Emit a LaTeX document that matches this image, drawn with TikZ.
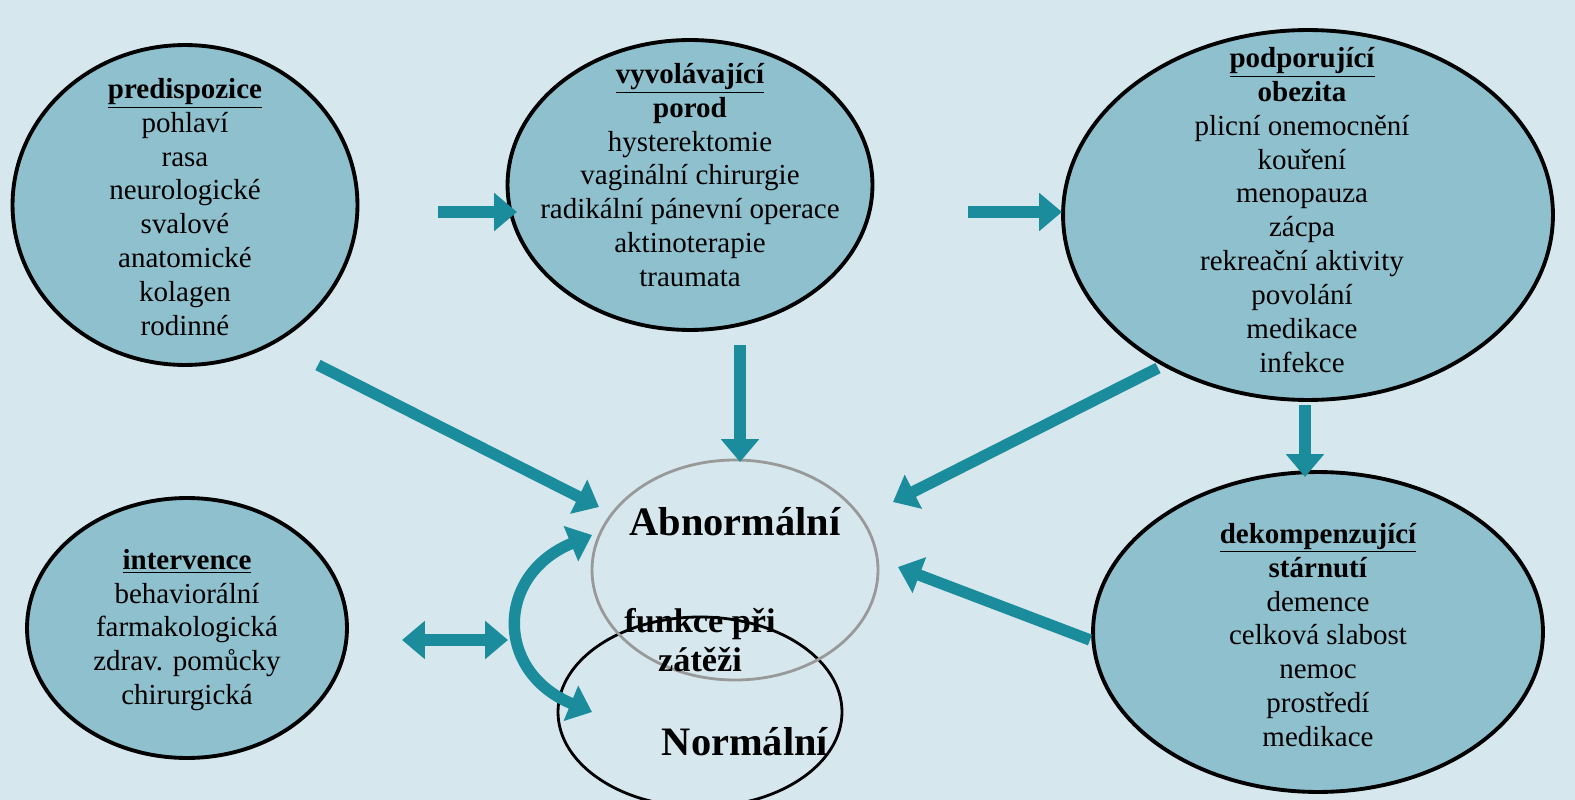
\documentclass[tikz,border=0pt]{standalone}
\usepackage{fontspec}
\setmainfont{Liberation Serif}
\usetikzlibrary{arrows.meta,shapes.geometric}
\definecolor{bgblue}{HTML}{D6E8EE}
\definecolor{cellfill}{HTML}{8EC0CD}
\definecolor{arrowteal}{HTML}{1A8C9C}
\begin{document}
\begin{tikzpicture}[x=0.02cm,y=-0.02cm]
            \fill[bgblue] (0,0) rectangle (1575,800);
            \useasboundingbox (0,0) rectangle (1575,800);
            \tikzset{cell/.style={ellipse,draw,line width=2.2pt,fill=cellfill,inner sep=0pt},
                     celltext/.style={align=center,font=\fontsize{16.5}{19.3}\selectfont},
                     flow/.style={arrowteal,line width=6.5pt,-{Triangle[length=13pt,width=21pt]}},
                     both/.style={arrowteal,line width=6.5pt,{Triangle[length=13pt,width=21pt]}-{Triangle[length=13pt,width=21pt]}}}

            \begin{scope}[every node/.style={cell}]
                \node (pred) [minimum width=6.9cm,minimum height=6.4cm] at (185,205) {};
                \node (vyv) [minimum width=7.3cm,minimum height=5.8cm] at (690,185) {};
                \node (podp) [minimum width=9.8cm,minimum height=7.4cm] at (1308,215) {};
                \node (dek) [minimum width=9cm,minimum height=6.4cm] at (1318,632) {};
                \node (interv) [minimum width=6.4cm,minimum height=5.2cm] at (187,628) {};
            \end{scope}

            \begin{scope}[every node/.style={celltext}]
                \node (predt) at (185,207) {\textbf{\underline{predispozice}}\\pohlaví\\rasa\\neurologické\\svalové\\anatomické\\kolagen\\rodinné};
                \node (vyvt) at (690,175) {\textbf{\underline{vyvolávající}}\\\textbf{porod}\\hysterektomie\\vaginální chirurgie\\radikální pánevní operace\\aktinoterapie\\traumata};
                \node (podpt) at (1302,210) {\textbf{\underline{podporující}}\\\textbf{obezita}\\plicní onemocnění\\kouření\\menopauza\\zácpa\\rekreační aktivity\\povolání\\medikace\\infekce};
                \node (dekt) at (1318,635) {\textbf{\underline{dekompenzující}}\\\textbf{stárnutí}\\demence\\celková slabost\\nemoc\\prostředí\\medikace};
                \node (intervt) at (187,630) {\textbf{\underline{intervence}}\\behaviorální\\farmakologická\\zdrav. pomůcky\\chirurgická};
            \end{scope}

            \draw[line width=1.6pt] (700,712) ellipse [x radius=142,y radius=95];
            \draw[gray!80,line width=1.6pt] (735,570) ellipse [x radius=143,y radius=110];
            \node (abn) [font=\fontsize{23}{26}\bfseries] at (735,522) {Abnormální};
            \node (fce) [align=center,font=\fontsize{19.5}{22}\bfseries] at (700,640) {funkce při\\zátěži};
            \node (norm) [font=\fontsize{23}{26}\bfseries] at (745,742) {Normální};

            \coordinate (p1) at (438,212); \coordinate (p2) at (517,212);
            \coordinate (v1) at (968,212); \coordinate (v2) at (1062,212);
            \coordinate (p3) at (318,365); \coordinate (a1) at (599,507);
            \coordinate (v3) at (740,345); \coordinate (a2) at (740,462);
            \coordinate (o1) at (1158,368); \coordinate (a3) at (893,502);
            \coordinate (o2) at (1305,405); \coordinate (d1) at (1305,477);
            \coordinate (d2) at (1090,640); \coordinate (a4) at (898,567);
            \coordinate (i1) at (402,640); \coordinate (i2) at (508,640);
            \coordinate (c1) at (592,535); \coordinate (c2) at (592,712);

            \begin{scope}
                \path [flow] (p1) edge (p2);
                \path [flow] (v1) edge (v2);
                \path [flow] (p3) edge (a1);
                \path [flow] (v3) edge (a2);
                \path [flow] (o1) edge (a3);
                \path [flow] (o2) edge (d1);
                \path [flow] (d2) edge (a4);
                \path [both] (i1) edge (i2);
                \draw [both] (c1) .. controls (495,575) and (495,672) .. (c2);
            \end{scope}
            \end{tikzpicture}
\end{document}
